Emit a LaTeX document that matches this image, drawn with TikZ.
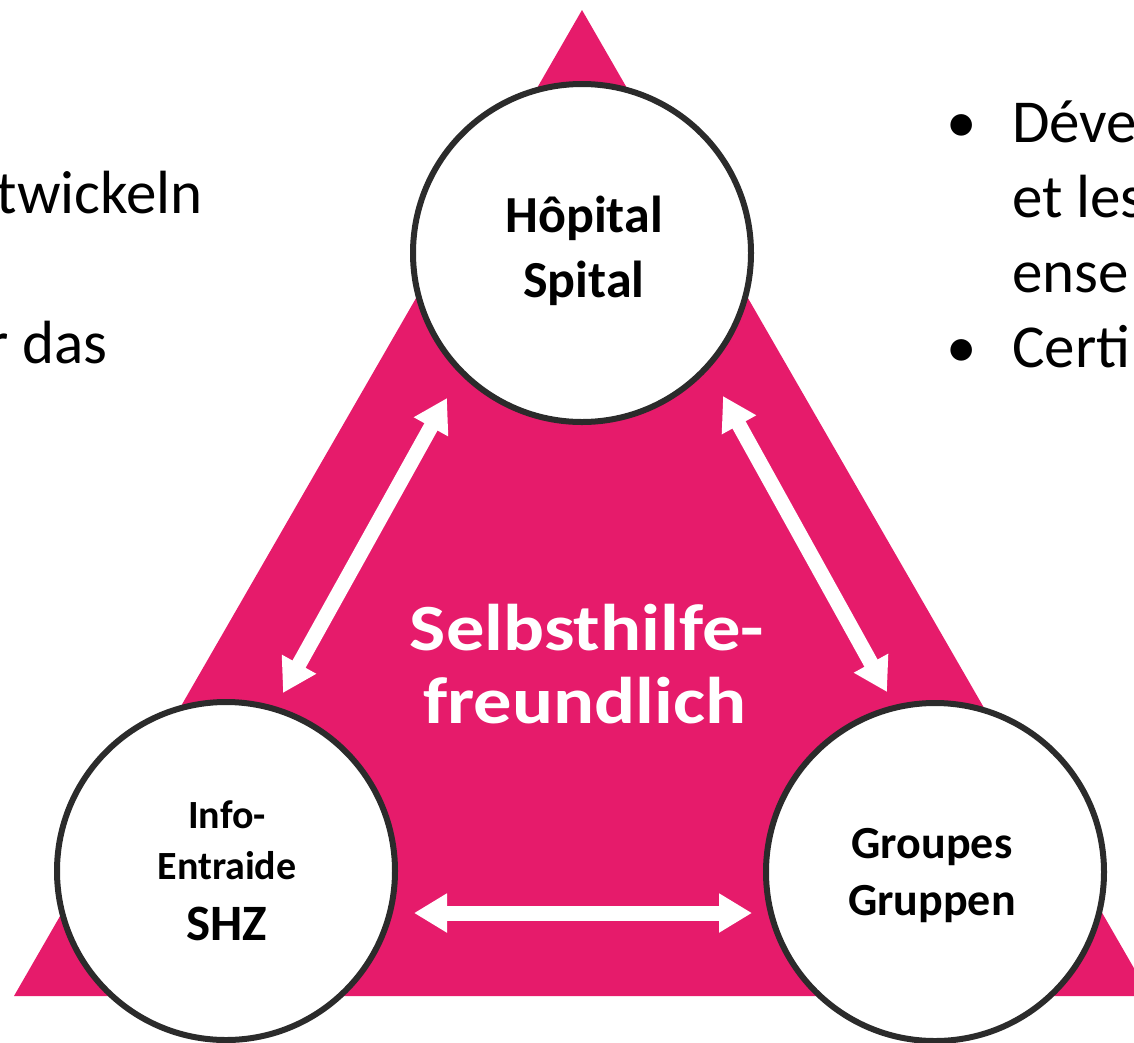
\documentclass[tikz,border=0pt]{standalone}
\usepackage{fontspec}
\setmainfont{Carlito}
\usetikzlibrary{arrows.meta}
\definecolor{pinkmain}{HTML}{E61B6B}
\definecolor{ringgray}{HTML}{2B2B2B}
\tikzset{
  hub/.style={circle, draw=ringgray, fill=white, line width=6pt, minimum size=338pt, inner sep=0pt},
  hublabel/.style={anchor=base, inner sep=0pt, font=\bfseries\fontsize{#1}{#1}\selectfont},
  bodytext/.style={inner sep=0pt, font=\fontsize{61}{73}\selectfont},
  centertext/.style={anchor=base, inner sep=0pt, text=white, font=\bfseries\fontsize{66}{66}\selectfont},
  dblarrow/.style={white, line width=15pt, {Triangle[length=33pt,width=37pt]}-{Triangle[length=33pt,width=37pt]}}
}
\begin{document}
\begin{tikzpicture}[x=1pt, y=-1pt]
\useasboundingbox (0,0) rectangle (1134,1042);
% side texts
\node[bodytext, anchor=base east] (lt1) at (203,213) {twickeln};
\node[bodytext, anchor=base east] (lt2) at (108,363) {r das};
\node[bodytext, anchor=base] (b1) at (962,142) {•};
\node[bodytext, anchor=base west] (rt1) at (1012,142) {Déve};
\node[bodytext, anchor=base west] (rt2) at (1012,217) {et les};
\node[bodytext, anchor=base west] (rt3) at (1012,292) {ense};
\node[bodytext, anchor=base] (b2) at (962,367) {•};
\node[bodytext, anchor=base west] (rt4) at (1012,367) {Certi};
% triangle
\fill[pinkmain] (582,10) -- (14,996) -- (1150,996) -- cycle;
% center text
\node[centertext] (c1) at (587,650) {\scalebox{1.16}[1]{Selbsthilfe-}};
\node[centertext] (c2) at (585,723) {\scalebox{1.16}[1]{freundlich}};
% arrows
\coordinate (la1) at (447,398);
\coordinate (la2) at (283,693);
\coordinate (ra1) at (723,396);
\coordinate (ra2) at (887,692);
\coordinate (ha1) at (414,913);
\coordinate (ha2) at (752,913);
\draw[dblarrow] (la1) -- (la2);
\draw[dblarrow] (ra1) -- (ra2);
\draw[dblarrow] (ha1) -- (ha2);
% hubs
\node[hub] (top) at (582,253) {};
\node[hub] (left) at (226,871) {};
\node[hub] (right) at (935,872) {};
% hub labels
\node[hublabel=52] (t1) at (584,232) {Hôpital};
\node[hublabel=52] (t2) at (584,297) {Spital};
\node[hublabel=40] (l1) at (227,828) {Info-};
\node[hublabel=40] (l2) at (227,879) {Entraide};
\node[hublabel=51] (l3) at (227,940) {SHZ};
\node[hublabel=46] (r1) at (932,858) {Groupes};
\node[hublabel=46] (r2) at (932,915) {Gruppen};
\end{tikzpicture}
\end{document}
